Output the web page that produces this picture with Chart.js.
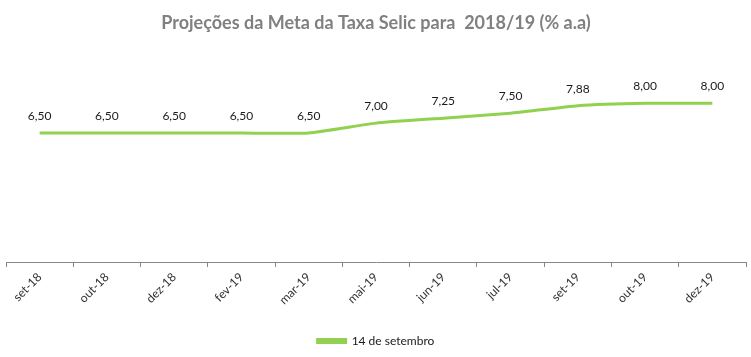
<!DOCTYPE html>
<html><head><meta charset="utf-8">
<script src="https://cdn.jsdelivr.net/npm/chart.js@4"></script>
<style>html,body{margin:0;padding:0;background:#fff}#wrap{width:751px;height:357px}</style>
</head><body><div id="wrap"><canvas id="c" width="751" height="357"></canvas></div>
<script>
const categories = ["set-18","out-18","dez-18","fev-19","mar-19","mai-19","jun-19","jul-19","set-19","out-19","dez-19"];
const selic = [6.50,6.50,6.50,6.50,6.50,7.00,7.25,7.50,7.88,8.00,8.00];
const seriesName = "14 de setembro";
const titleText = "Projeções da Meta da Taxa Selic para  2018/19 (% a.a)";
const FONT = "Lato, 'Open Sans', sans-serif";

const labelPlugin = {
  id: 'valLabels',
  afterDatasetsDraw(chart) {
    const ctx = chart.ctx;
    const meta = chart.getDatasetMeta(0);
    ctx.save();
    ctx.font = "12px " + FONT;
    ctx.fillStyle = "#1a1a1a";
    ctx.textAlign = "center";
    ctx.textBaseline = "bottom";
    meta.data.forEach((pt, i) => {
      ctx.fillText(selic[i].toFixed(2).replace('.', ','), pt.x, pt.y - 11);
    });
    ctx.restore();
  }
};

new Chart(document.getElementById('c'), {
  type: 'line',
  data: {
    labels: categories,
    datasets: [{
      label: seriesName,
      data: selic,
      borderColor: '#92D050',
      backgroundColor: '#92D050',
      borderWidth: 3,
      pointRadius: 0,
      tension: 0.15,
      fill: false
    }]
  },
  options: {
    responsive: false,
    animation: false,
    layout: { padding: { left: 6, right: 5, top: 10, bottom: 0 } },
    plugins: {
      title: {
        display: true, text: titleText, color: '#808080',
        font: { family: FONT, size: 18, weight: 'bold' },
        padding: { top: 2, bottom: 30 }
      },
      legend: {
        position: 'bottom',
        labels: {
          font: { family: FONT, size: 12 }, color: '#1a1a1a',
          boxWidth: 28, boxHeight: 3, padding: 4
        }
      },
      tooltip: { enabled: false }
    },
    scales: {
      x: {
        offset: true,
        grid: { display: true, drawOnChartArea: false, drawTicks: true, tickLength: 5, color: '#888', offset: true },
        border: { display: true, color: '#888', width: 1 },
        ticks: { maxRotation: 45, minRotation: 45, color: '#333', font: { family: FONT, size: 12 }, padding: 3 },
        afterFit(s) { s.height = 69; }
      },
      y: {
        display: false, min: 0, max: 10
      }
    }
  },
  plugins: [labelPlugin]
});
</script>
</body></html>
